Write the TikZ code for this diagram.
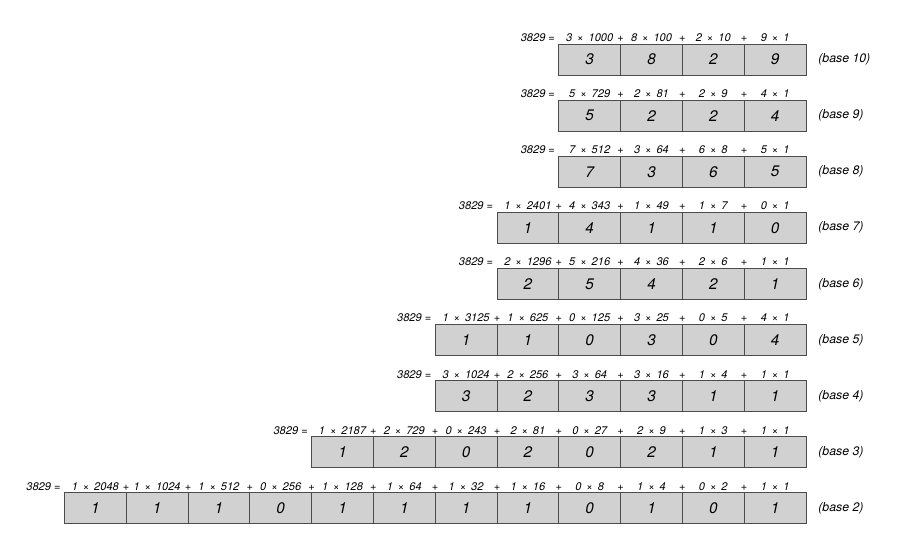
\documentclass[tikz,border=0pt]{standalone}
\usepackage{fontspec}
\setmainfont{TeX Gyre Heros}
\usetikzlibrary{positioning}
\tikzset{
  cell/.style={draw=black!70,line width=0.5pt,fill=black!18,minimum width=1.236cm,
               minimum height=0.62cm,inner sep=0pt,outer sep=0pt,
               font=\fontsize{8.7}{10}\selectfont\itshape},
  term/.style={inner sep=0pt,font=\fontsize{6.3}{7}\selectfont\itshape},
  baselab/.style={inner sep=0pt,anchor=west,font=\fontsize{7}{8}\selectfont\itshape}
}
% #1 base, #2 y of the cells, #3 number of cells, #4 digit/weight pairs
\newcommand{\baserow}[4]{%
  \coordinate (b#1-0) at ({16.12-1.236*#3},#2);
  \foreach \d/\w [count=\i, remember=\i as \j (initially 0)] in {#4} {
    \node[cell, right=0pt of b#1-\j] (b#1-\i) {\d};
    \node[term, anchor=base] (b#1-t\i) at ([yshift=0.05cm]b#1-\i.north) {\d~\,×\,~\w};
    \ifnum\i>1
      \node[term, anchor=base] (b#1-p\i) at ([yshift=0.05cm]b#1-\j.north east) {+};
    \fi
  }
  \node[term, anchor=base east] (b#1-eq) at ([xshift=-0.07cm,yshift=0.05cm]b#1-1.north west) {3829 =};
  \node[baselab, right=0.24cm of b#1-#3] (b#1-lab) {(base #1)};
}

\begin{document}
\begin{tikzpicture}
\useasboundingbox (0,0) rectangle (18,-10.92);
\baserow{10}{-1.19}{4}{3/1000,8/100,2/10,9/1}
\baserow{9}{-2.312}{4}{5/729,2/81,2/9,4/1}
\baserow{8}{-3.434}{4}{7/512,3/64,6/8,5/1}
\baserow{7}{-4.556}{5}{1/2401,4/343,1/49,1/7,0/1}
\baserow{6}{-5.678}{5}{2/1296,5/216,4/36,2/6,1/1}
\baserow{5}{-6.8}{6}{1/3125,1/625,0/125,3/25,0/5,4/1}
\baserow{4}{-7.922}{6}{3/1024,2/256,3/64,3/16,1/4,1/1}
\baserow{3}{-9.044}{8}{1/2187,2/729,0/243,2/81,0/27,2/9,1/3,1/1}
\baserow{2}{-10.166}{12}{1/2048,1/1024,1/512,0/256,1/128,1/64,1/32,1/16,0/8,1/4,0/2,1/1}
\end{tikzpicture}
\end{document}
